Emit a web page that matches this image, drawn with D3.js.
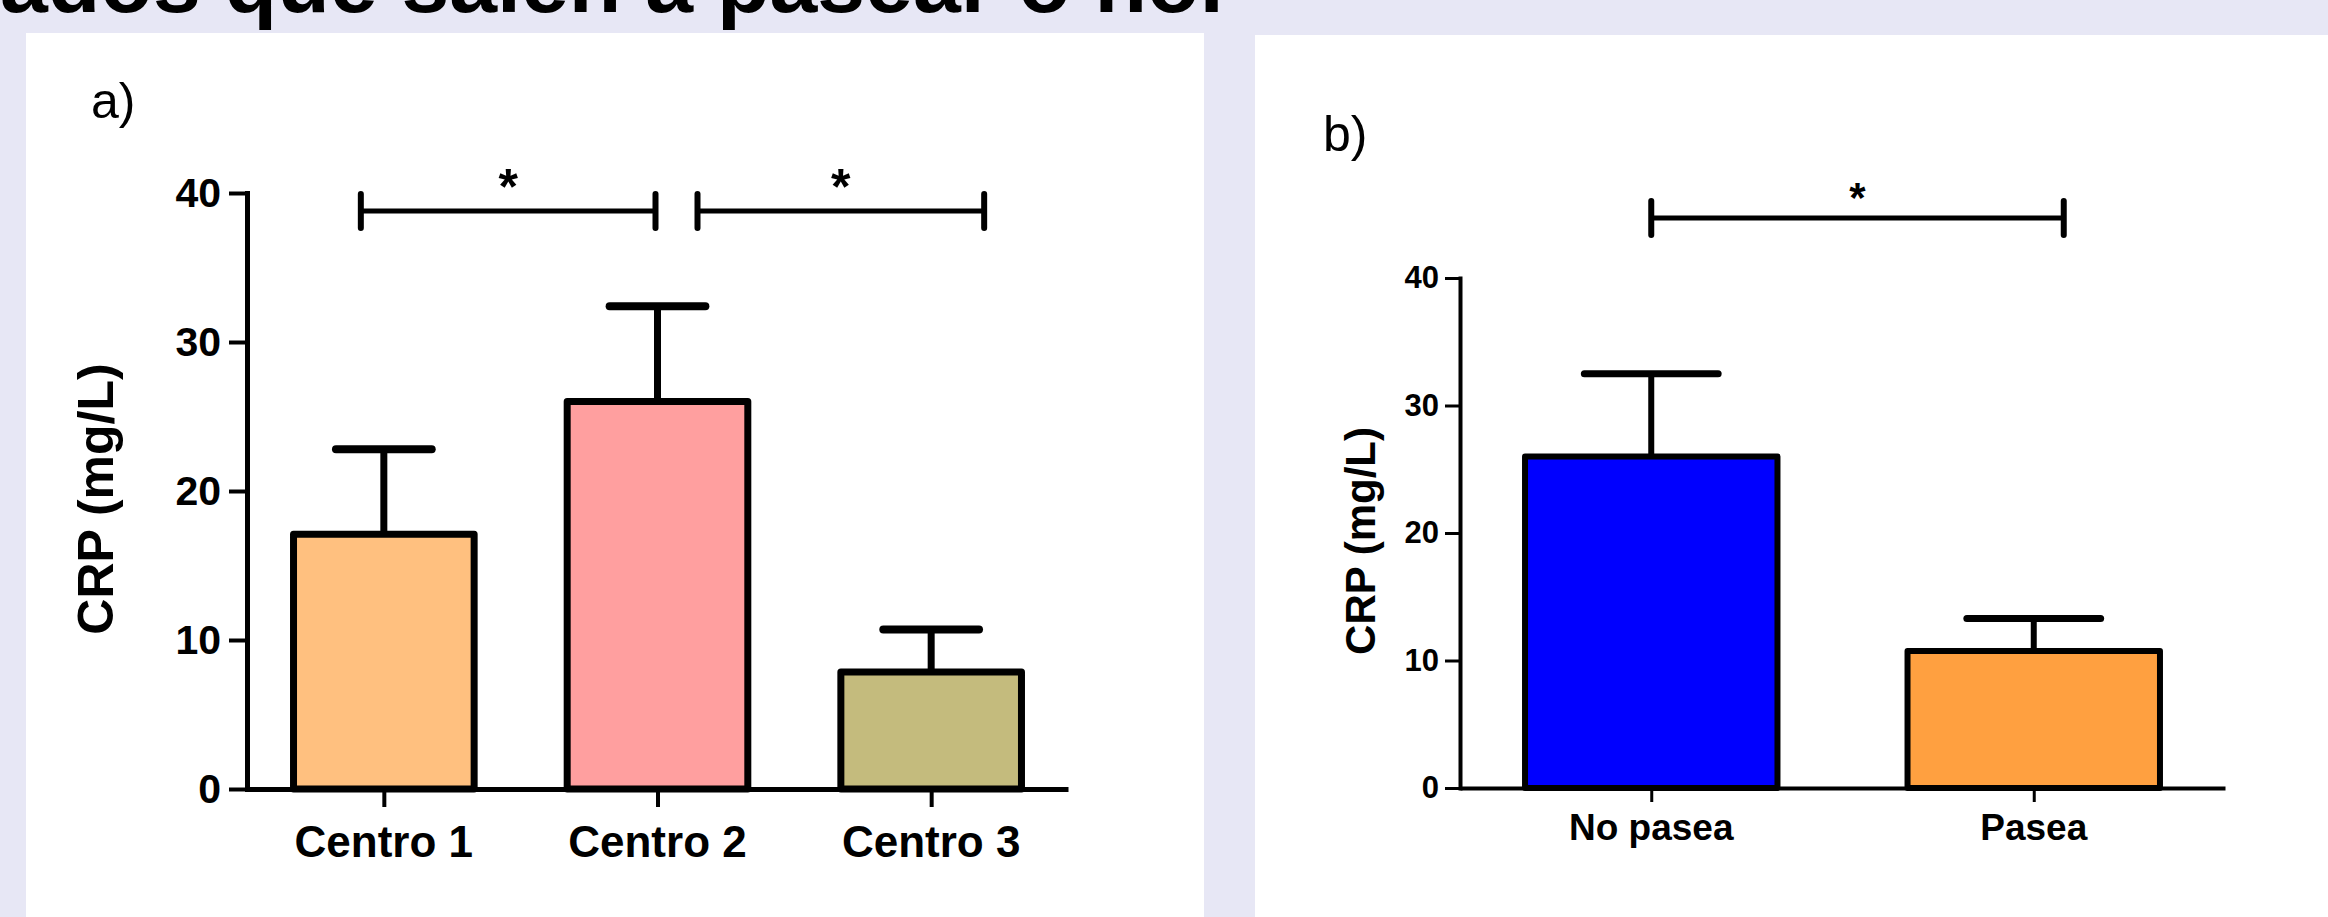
<!DOCTYPE html>
<html>
<head>
<meta charset="utf-8">
<script src="https://cdn.jsdelivr.net/npm/d3@7"></script>
<style>
  html, body { margin: 0; padding: 0; background: #e7e7f5; overflow: hidden; }
  svg { display: block; }
  text { font-family: "Liberation Sans", Arial, sans-serif; }
</style>
</head>
<body>
<svg id="chart" width="2328" height="917"></svg>
<script>
// Data
const centros = ['Centro 1', 'Centro 2', 'Centro 3'];
const centroMeans = [17.1, 26.0, 7.85];
const centroSem = [5.7, 6.4, 2.85];

const paseo = ['No pasea', 'Pasea'];
const paseoMeans = [26.0, 10.75];
const paseoSem = [6.5, 2.55];

const yTicks = [0, 10, 20, 30, 40];
const yLabel = 'CRP  (mg/L)';
const titleText = 'ados que salen a pasear  o no.';

// significance brackets: category index from/to, height in mg/L
const sigA = [
    { from: 0, to: 1, level: 38.8, mark: '*' },
    { from: 1, to: 2, level: 38.8, mark: '*' }
];
const sigB = [
    { from: 0, to: 1, level: 44.7, mark: '*' }
];

// Styles
const centroColors = ['#ffc07f', '#ff9f9f', '#c4bb7d'];
const paseoColors = ['#0000ff', '#ffa040'];

const svg = d3.select('#chart');

// Title fragment at the very top (cut off by the slide)
svg.append('text')
    .attr('x', 0)
    .attr('y', 12)
    .attr('font-size', 86)
    .attr('font-weight', 'bold')
    .attr('fill', '#000')
    .text(titleText);

// Panel settings (layout only)
const panelA = {
    bg: { x: 26, y: 33, w: 1178, h: 884 },
    letter: 'a)', letterX: 91, letterY: 118,
    x0: 247, x1: 1068, yBottom: 789, yTop: 193,
    axisWidth: 5, barStroke: 7, errWidth: 7,
    tickFont: 41, tickLen: 18, tickPad: 8,
    catFont: 44, catY: 857, xTickLen: 18,
    labelFont: 50, labelX: 113,
    bracketOffsets: [[-23, -2], [40, 53]], bracketTick: 17, bracketWidth: 5,
    starFont: 50, starRise: -7
};
const panelB = {
    bg: { x: 1255, y: 35, w: 1073, h: 882 },
    letter: 'b)', letterX: 1323, letterY: 151,
    x0: 1460, x1: 2225, yBottom: 788, yTop: 278,
    axisWidth: 4, barStroke: 6, errWidth: 6,
    tickFont: 31, tickLen: 15, tickPad: 6,
    catFont: 37, catY: 840, xTickLen: 14,
    labelFont: 42, labelX: 1375,
    bracketOffsets: [[0, 30]], bracketTick: 17, bracketWidth: 5,
    starFont: 42, starRise: -6
};

function drawPanel(p, cats, means, sem, colors, sig) {
    const g = svg.append('g');

    g.append('rect')
        .attr('x', p.bg.x).attr('y', p.bg.y)
        .attr('width', p.bg.w).attr('height', p.bg.h)
        .attr('fill', '#ffffff');

    g.append('text')
        .attr('x', p.letterX).attr('y', p.letterY)
        .attr('font-size', 50)
        .text(p.letter);

    const x = d3.scalePoint().domain(cats).range([p.x0, p.x1]).padding(0.5);
    const y = d3.scaleLinear().domain([0, 40]).range([p.yBottom, p.yTop]);
    const bw = x.step() * 0.66;
    const capW = bw * 0.53;
    const idx = d3.scaleLinear().domain([0, 1]).range([x(cats[0]), x(cats[1])]);

    // error bars (stem + cap)
    const err = g.append('g').attr('stroke', '#000').attr('stroke-linecap', 'round');
    cats.forEach((c, i) => {
        err.append('line')
            .attr('x1', x(c)).attr('x2', x(c))
            .attr('y1', y(means[i])).attr('y2', y(means[i] + sem[i]))
            .attr('stroke-width', p.errWidth).attr('stroke-linecap', 'butt');
        err.append('line')
            .attr('x1', x(c) - capW / 2).attr('x2', x(c) + capW / 2)
            .attr('y1', y(means[i] + sem[i])).attr('y2', y(means[i] + sem[i]))
            .attr('stroke-width', p.errWidth + 1);
    });

    // bars
    g.selectAll('rect.bar')
        .data(cats)
        .join('rect')
        .attr('class', 'bar')
        .attr('x', d => x(d) - bw / 2)
        .attr('y', (d, i) => y(means[i]))
        .attr('width', bw)
        .attr('height', (d, i) => y(0) - y(means[i]))
        .attr('fill', (d, i) => colors[i])
        .attr('stroke', '#000')
        .attr('stroke-width', p.barStroke)
        .attr('stroke-linejoin', 'round');

    // y axis
    const yAxis = g.append('g')
        .attr('transform', `translate(${p.x0},0)`)
        .call(d3.axisLeft(y).tickValues(yTicks).tickSize(p.tickLen).tickSizeOuter(0).tickPadding(p.tickPad));
    yAxis.select('.domain').attr('stroke-width', p.axisWidth).attr('stroke-linecap', 'square');
    yAxis.selectAll('.tick line').attr('stroke-width', p.axisWidth - 1);
    yAxis.selectAll('.tick text')
        .attr('font-size', p.tickFont)
        .attr('font-weight', 'bold')
        .attr('font-family', '"Liberation Sans", Arial, sans-serif')
        .attr('fill', '#000');

    // x axis
    const xAxis = g.append('g')
        .attr('transform', `translate(0,${p.yBottom})`)
        .call(d3.axisBottom(x).tickSize(p.xTickLen).tickSizeOuter(0).tickFormat(''));
    xAxis.select('.domain').attr('stroke-width', p.axisWidth);
    xAxis.selectAll('.tick line').attr('stroke-width', p.axisWidth - 1);

    g.selectAll('text.cat')
        .data(cats)
        .join('text')
        .attr('class', 'cat')
        .attr('x', d => x(d))
        .attr('y', p.catY)
        .attr('text-anchor', 'middle')
        .attr('font-size', p.catFont)
        .attr('font-weight', 'bold')
        .text(d => d);

    // y label
    g.append('text')
        .attr('transform', `translate(${p.labelX},${(p.yBottom + p.yTop) / 2 + 8}) rotate(-90)`)
        .attr('text-anchor', 'middle')
        .attr('font-size', p.labelFont)
        .attr('font-weight', 'bold')
        .text(yLabel);

    // significance brackets
    sig.forEach((s, k) => {
        const xa = idx(s.from) + p.bracketOffsets[k][0];
        const xb = idx(s.to) + p.bracketOffsets[k][1];
        const yy = y(s.level);
        const br = g.append('g').attr('stroke', '#000').attr('stroke-linecap', 'round');
        br.append('line').attr('x1', xa).attr('x2', xb).attr('y1', yy).attr('y2', yy)
            .attr('stroke-width', p.bracketWidth).attr('stroke-linecap', 'butt');
        [xa, xb].forEach(xx => {
            br.append('line').attr('x1', xx).attr('x2', xx)
                .attr('y1', yy - p.bracketTick).attr('y2', yy + p.bracketTick)
                .attr('stroke-width', p.bracketWidth + 1);
        });
        g.append('text')
            .attr('x', (xa + xb) / 2)
            .attr('y', yy + p.starRise)
            .attr('text-anchor', 'middle')
            .attr('font-size', p.starFont)
            .attr('font-weight', 'bold')
            .text(s.mark);
    });
}

drawPanel(panelA, centros, centroMeans, centroSem, centroColors, sigA);
drawPanel(panelB, paseo, paseoMeans, paseoSem, paseoColors, sigB);
</script>
</body>
</html>
